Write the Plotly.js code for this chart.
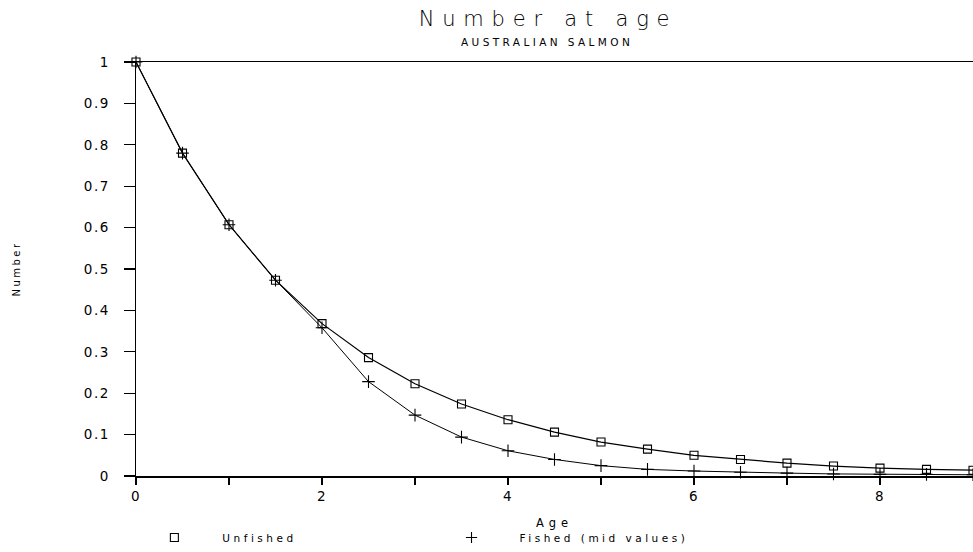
<!DOCTYPE html>
<html>
<head>
<meta charset="utf-8">
<script src="https://cdn.plot.ly/plotly-3.0.1.min.js"></script>
<style>
  html, body { margin: 0; padding: 0; background: #fff; }
  #chart { width: 973px; height: 552px; }
  text.gtitle { letter-spacing: 7.8px; }
  text.annotation-text { letter-spacing: 3.4px; }
  .xtick text, .ytick text { letter-spacing: 1.5px; }
  text.xtitle { letter-spacing: 5px; }
  text.ytitle { letter-spacing: 2.5px; }
  text.legendtext, g.legend text, g.legend2 text, .legend2 text { letter-spacing: 3.5px !important; }
</style>
</head>
<body>
<div id="chart"></div>
<script>
// Ages (years)
const ages = [0, 0.5, 1, 1.5, 2, 2.5, 3, 3.5, 4, 4.5, 5, 5.5, 6, 6.5, 7, 7.5, 8, 8.5, 9];
// Number at age, unfished stock
const unfished = [1.0, 0.78, 0.607, 0.473, 0.368, 0.286, 0.223, 0.174, 0.136, 0.106, 0.082, 0.065, 0.050, 0.040, 0.031, 0.024, 0.019, 0.016, 0.014];
// Number at age, fished stock (mid values)
const fished = [1.0, 0.78, 0.607, 0.473, 0.358, 0.228, 0.147, 0.094, 0.061, 0.040, 0.025, 0.016, 0.012, 0.009, 0.007, 0.005, 0.004, 0.004, 0.003];
const seriesNames = ['Unfished', 'Fished (mid values)'];
const xTickVals = [0, 2, 4, 6, 8];
const xMinorVals = [1, 3, 5, 7];

const font = 'DejaVu Sans, Liberation Sans, sans-serif';
const sqMarker = {symbol: 'square-open', size: 8, color: '#000', line: {color: '#000', width: 1.1}};
const crMarker = {symbol: 'cross-thin-open', size: 9, color: '#000', line: {color: '#000', width: 1.1}};
const crLegend = {symbol: 'cross-thin-open', size: 8, color: '#000', line: {color: '#000', width: 1.1}};

const traces = [
  {x: ages, y: unfished, mode: 'lines+markers', line: {color: '#000', width: 1.2},
   marker: sqMarker, showlegend: false, cliponaxis: false},
  {x: ages, y: fished, mode: 'lines+markers', line: {color: '#000', width: 1},
   marker: crMarker, showlegend: false, cliponaxis: false},
  // legend-only entries (marker symbol only, as in the original key)
  {x: [null], y: [null], mode: 'markers', marker: sqMarker, name: seriesNames[0], legend: 'legend'},
  {x: [null], y: [null], mode: 'markers', marker: crLegend, name: seriesNames[1], legend: 'legend2'}
];

const legendCommon = {
  orientation: 'h', xanchor: 'left', yanchor: 'middle', y: -0.149,
  font: {family: font, size: 10.5, color: '#000'}, bgcolor: 'rgba(0,0,0,0)',
  borderwidth: 0, itemwidth: 86, entrywidth: 260, entrywidthmode: 'pixels'
};

const layout = {
  width: 973, height: 552,
  margin: {l: 136, r: 0, t: 62, b: 74},
  paper_bgcolor: '#fff', plot_bgcolor: '#fff',
  showlegend: true,
  title: {text: 'Number at age', x: 548 / 973, xanchor: 'center', xref: 'container',
          y: 1 - 19 / 552, yanchor: 'middle', yref: 'container',
          font: {family: font, size: 21, color: '#000', weight: 200}},
  annotations: [{text: 'AUSTRALIAN SALMON', xref: 'paper', yref: 'paper',
                 x: (547 - 136) / 837, y: 1 + (62 - 42) / 416, xanchor: 'center', yanchor: 'middle',
                 showarrow: false, font: {family: font, size: 10.5, color: '#000'}}],
  xaxis: {range: [0, 9], tickvals: xTickVals, ticktext: xTickVals.map(String),
          ticks: 'outside', ticklen: 7, tickwidth: 1.2, tickcolor: '#000',
          showline: true, linewidth: 1.5, linecolor: '#000', mirror: true,
          showgrid: false, zeroline: false,
          minor: {tickvals: xMinorVals, ticks: 'outside', ticklen: 7, tickwidth: 1.2, tickcolor: '#000', showgrid: false},
          tickfont: {family: font, size: 13.5, color: '#000'},
          title: {text: 'Age', standoff: 16, font: {family: font, size: 11.5, color: '#000'}}},
  yaxis: {range: [0, 1], dtick: 0.1, tick0: 0,
          ticks: 'outside', ticklen: 11, tickwidth: 1.2, tickcolor: '#000',
          showline: true, linewidth: 1.5, linecolor: '#000', mirror: true,
          showgrid: false, zeroline: false, ticklabelstandoff: 11,
          tickfont: {family: font, size: 13.5, color: '#000'},
          title: {text: 'Number', standoff: 61, font: {family: font, size: 10, color: '#000'}}},
  legend: Object.assign({}, legendCommon, {x: -0.0115}),
  legend2: Object.assign({}, legendCommon, {x: 0.3435})
};

Plotly.newPlot('chart', traces, layout, {displayModeBar: false, staticPlot: true});
</script>
</body>
</html>
